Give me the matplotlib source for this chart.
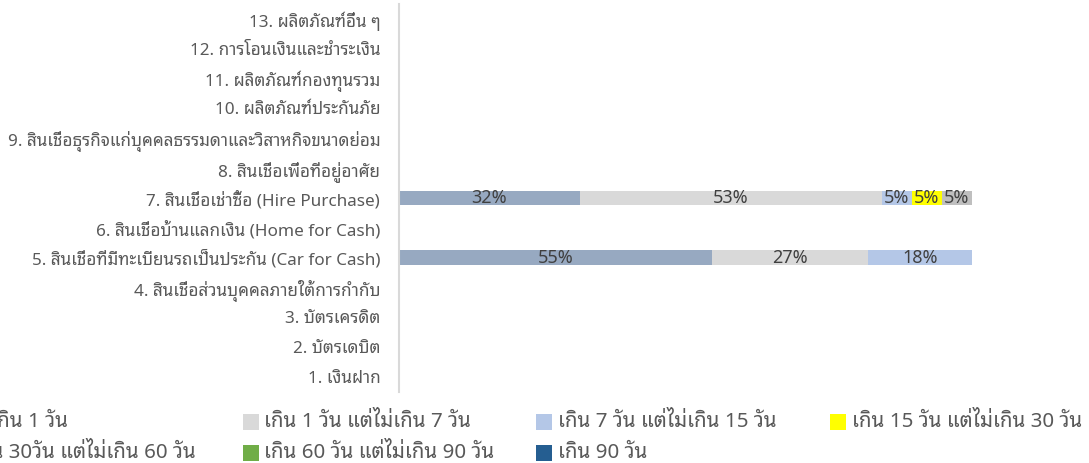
import matplotlib
matplotlib.use('Agg')
import matplotlib.pyplot as plt
from matplotlib.patches import Rectangle
import numpy as np

plt.rcParams['font.family'] = ['Noto Sans Thai Looped', 'DejaVu Sans']

# product categories, bottom to top
categories = [
    '1. เงินฝาก',
    '2. บัตรเดบิต',
    '3. บัตรเครดิต',
    '4. สินเชื่อส่วนบุคคลภายใต้การกำกับ',
    '5. สินเชื่อที่มีทะเบียนรถเป็นประกัน (Car for Cash)',
    '6. สินเชื่อบ้านแลกเงิน (Home for Cash)',
    '7. สินเชื่อเช่าซื้อ (Hire Purchase)',
    '8. สินเชื่อเพื่อที่อยู่อาศัย',
    '9. สินเชื่อธุรกิจแก่บุคคลธรรมดาและวิสาหกิจขนาดย่อม',
    '10. ผลิตภัณฑ์ประกันภัย',
    '11. ผลิตภัณฑ์กองทุนรวม',
    '12. การโอนเงินและชำระเงิน',
    '13. ผลิตภัณฑ์อื่น ๆ',
]

series_names = [
    'ไม่เกิน 1 วัน',
    'เกิน 1 วัน แต่ไม่เกิน 7 วัน',
    'เกิน 7 วัน แต่ไม่เกิน 15 วัน',
    'เกิน 15 วัน แต่ไม่เกิน 30 วัน',
    'เกิน 30วัน แต่ไม่เกิน 60 วัน',
    'เกิน 60 วัน แต่ไม่เกิน 90 วัน',
    'เกิน 90 วัน',
]
colors = ['#97A9C1', '#D9D9D9', '#B4C7E7', '#FFFF00', '#BFBFBF', '#70AD47', '#255E91']

# share (%) per category, one list per series (same order as categories)
s_le1   = [0, 0, 0, 0, 54.55, 0, 31.58, 0, 0, 0, 0, 0, 0]
s_1_7   = [0, 0, 0, 0, 27.27, 0, 52.63, 0, 0, 0, 0, 0, 0]
s_7_15  = [0, 0, 0, 0, 18.18, 0, 5.26, 0, 0, 0, 0, 0, 0]
s_15_30 = [0, 0, 0, 0, 0, 0, 5.26, 0, 0, 0, 0, 0, 0]
s_30_60 = [0, 0, 0, 0, 0, 0, 5.26, 0, 0, 0, 0, 0, 0]
s_60_90 = [0, 0, 0, 0, 0, 0, 0, 0, 0, 0, 0, 0, 0]
s_gt90  = [0, 0, 0, 0, 0, 0, 0, 0, 0, 0, 0, 0, 0]
series = [s_le1, s_1_7, s_7_15, s_15_30, s_30_60, s_60_90, s_gt90]

W, H = 1089, 463
fig = plt.figure(figsize=(W / 100, H / 100), dpi=100)
ax = fig.add_axes([399 / W, 1 - 392 / H, 573 / W, 388 / H])

y = np.arange(len(categories))
left = np.zeros(len(categories))
for name, vals, c in zip(series_names, series, colors):
    vals = np.array(vals, dtype=float)
    bars = ax.barh(y, vals, left=left, height=0.5, color=c, label=name)
    for b, v in zip(bars, vals):
        if v > 0:
            ax.text(b.get_x() + b.get_width() / 2, b.get_y() + b.get_height() / 2,
                    f'{v:.0f}%', ha='center', va='center', fontsize=13, color='#404040')
    left += vals

ax.set_xlim(0, 100)
ax.set_ylim(-0.5, len(categories) - 0.5)
ax.set_yticks(y)
ax.set_yticklabels(categories, fontsize=12.3, color='#595959')
ax.tick_params(axis='y', length=0, pad=13.5)
ax.set_xticks([])
for s in ['top', 'right', 'bottom']:
    ax.spines[s].set_visible(False)
ax.spines['left'].set_color('#D9D9D9')
ax.spines['left'].set_linewidth(1.5)

# legend: 4 equal-width columns, filled row by row, first column runs off the left edge
col_w, row_h = 293.5, 31
x0, y0 = -51, 421.5
box = 16
for i, (name, c) in enumerate(zip(series_names, colors)):
    px = x0 + (i % 4) * col_w
    py = y0 + (i // 4) * row_h
    fig.patches.append(Rectangle((px / W, 1 - (py + box / 2) / H), box / W, box / H,
                                 transform=fig.transFigure, facecolor=c, edgecolor='none'))
    fig.text((px + box + 6) / W, 1 - py / H, name, ha='left', va='center',
             fontsize=14.8, color='#595959')

fig.savefig('out.png', dpi=100)
